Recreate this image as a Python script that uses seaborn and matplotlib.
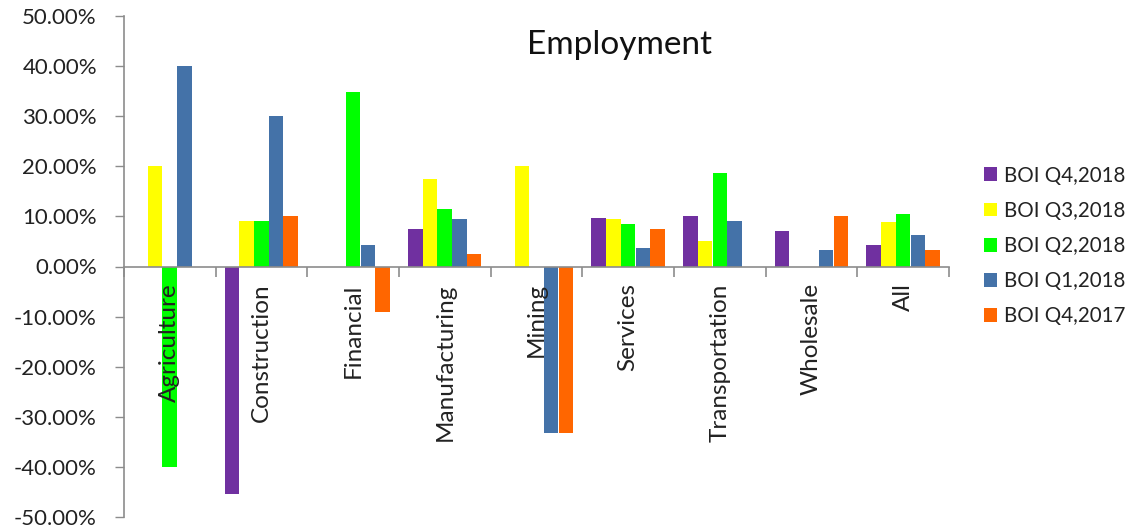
import numpy as np
import pandas as pd
import matplotlib
matplotlib.use("Agg")
import matplotlib.pyplot as plt
import seaborn as sns
from matplotlib.patches import Patch
from matplotlib.ticker import FuncFormatter, FixedLocator

categories = ["Agriculture", "Construction", "Financial", "Manufacturing", "Mining",
              "Services", "Transportation", "Wholesale", "All"]
series = ["BOI Q4,2018", "BOI Q3,2018", "BOI Q2,2018", "BOI Q1,2018", "BOI Q4,2017"]

q4_2018 = [0.0, -45.45, 0.0, 7.4, 0.0, 9.6, 10.0, 7.1, 4.3]
q3_2018 = [20.0, 9.09, 0.0, 17.5, 20.0, 9.5, 5.0, 0.0, 8.9]
q2_2018 = [-40.0, 9.09, 34.78, 11.4, 0.0, 8.5, 18.6, 0.0, 10.4]
q1_2018 = [40.0, 30.0, 4.35, 9.5, -33.33, 3.75, 9.0, 3.2, 6.2]
q4_2017 = [0.0, 10.0, -9.09, 2.4, -33.33, 7.5, 0.0, 10.0, 3.3]

colors = ["#7030A0", "#FFFF00", "#00FF00", "#4472A8", "#FF6600"]

values = [q4_2018, q3_2018, q2_2018, q1_2018, q4_2017]
rows = []
for s, vals in zip(series, values):
    for c, v in zip(categories, vals):
        rows.append({"Category": c, "Series": s, "Value": v})
df = pd.DataFrame(rows)

sns.set_theme(style="white")
plt.rcParams["font.family"] = ["Lato", "DejaVu Sans"]
plt.rcParams["axes.unicode_minus"] = False

fig = plt.figure(figsize=(11.30, 5.28), dpi=100)
ax = fig.add_axes([124 / 1130, 11 / 528, (949 - 124) / 1130, (517 - 16) / 528])

sns.barplot(data=df, x="Category", y="Value", hue="Series", order=categories,
            hue_order=series, palette=colors, width=0.8, errorbar=None,
            saturation=1, linewidth=0, ax=ax, legend=False)

ax.set_axisbelow(False)
ax.set_ylim(-50, 50)
ax.set_xlim(-0.5, len(categories) - 0.5)
ax.set_yticks(np.arange(-50, 51, 10))
ax.yaxis.set_major_formatter(FuncFormatter(lambda v, p: f"{v:.2f}%"))
ax.tick_params(axis="y", which="major", left=True, length=6.5, width=1,
               color="#8c8c8c", labelsize=16, pad=13, labelcolor="#222222")

for side in ["top", "right"]:
    ax.spines[side].set_visible(False)
ax.spines["left"].set_color("#8c8c8c")
ax.spines["bottom"].set_color("#8c8c8c")
ax.spines["bottom"].set_position(("data", 0))
ax.spines["left"].set_linewidth(1.2)
ax.spines["bottom"].set_linewidth(1.2)

n = len(categories)
ax.xaxis.set_major_locator(FixedLocator(np.arange(-0.5, n, 1.0)))
ax.xaxis.set_major_formatter(FuncFormatter(lambda v, p: ""))
ax.set_xticks(np.arange(0, n, 1.0), minor=True)
ax.set_xticklabels(categories, minor=True, rotation=90, va="top", ha="center",
                   fontsize=17.5, color="#222222")
ax.tick_params(axis="x", which="major", bottom=True, length=7, width=1.2,
               color="#8c8c8c", direction="out")
ax.tick_params(axis="x", which="minor", bottom=True, length=0, pad=12)
ax.set_xlabel("")
ax.set_ylabel("")

fig.text(620 / 1130, 1 - 45 / 528, "Employment", ha="center", va="center",
         fontsize=24, color="#111111")

handles = [Patch(facecolor=c, edgecolor="none") for c in colors]
fig.legend(handles, series, loc="center left", bbox_to_anchor=(965 / 1130, 1 - 246 / 528),
           frameon=False, fontsize=14.8, labelspacing=0.74, handlelength=0.65,
           handleheight=0.65, handletextpad=0.35, labelcolor="#222222")

fig.savefig("out.png", dpi=100)
